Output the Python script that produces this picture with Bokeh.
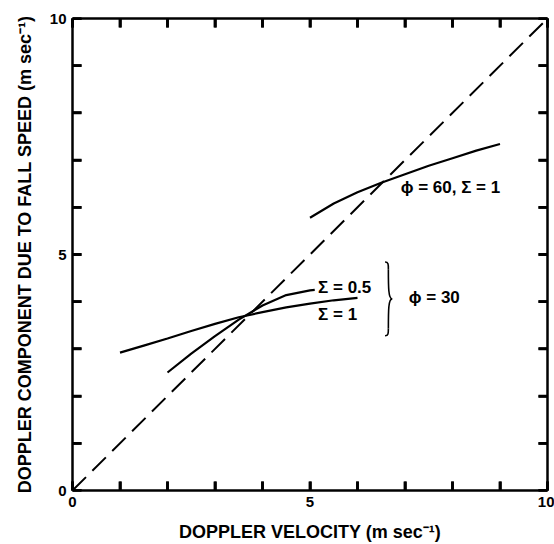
from bokeh.plotting import figure
from bokeh.models import Range1d, LinearAxis, FixedTicker, Label
from bokeh.embed import file_html
from bokeh.resources import INLINE

# ---- data ----
DIAG_X = [0, 10]
DIAG_Y = [0, 10]

PHI60_X = [5.0, 5.5, 6.0, 6.5, 7.0, 7.5, 8.0, 8.5, 9.0]
PHI60_Y = [5.78, 6.08, 6.32, 6.52, 6.70, 6.88, 7.04, 7.20, 7.34]

PHI30_S1_X = [1.0, 1.5, 2.0, 2.5, 3.0, 3.5, 4.0, 4.5, 5.0, 5.5, 6.0]
PHI30_S1_Y = [2.92, 3.07, 3.22, 3.38, 3.53, 3.67, 3.78, 3.88, 3.96, 4.03, 4.08]

PHI30_S05_X = [2.0, 2.5, 3.0, 3.5, 4.0, 4.5, 5.0, 5.1]
PHI30_S05_Y = [2.50, 2.90, 3.27, 3.62, 3.92, 4.14, 4.24, 4.25]

TICKS = list(range(0, 11))
TICK_LABELS = {0: "0", 5: "5", 10: "10"}

X_TITLE = "DOPPLER VELOCITY (m sec\u207b\u00b9)"
Y_TITLE = "DOPPLER COMPONENT DUE TO FALL SPEED (m sec\u207b\u00b9)"

FONT = "Liberation Sans"
TICK_LEN = 0.19    # inward tick length (data units, ~9 px)
TICK_HALF = 0.03   # half tick thickness (data units, ~1.4 px)

p = figure(width=554, height=544, x_range=Range1d(0, 10), y_range=Range1d(0, 10),
           output_backend="svg", toolbar_location=None,
           x_axis_location=None, y_axis_location=None,
           min_border_left=72, min_border_right=7, min_border_top=18, min_border_bottom=54)
p.outline_line_color = None
p.xgrid.visible = False
p.ygrid.visible = False
p.background_fill_color = "white"
p.border_fill_color = "white"

overrides = {t: TICK_LABELS.get(t, "") for t in TICKS}


def make_axis(title=None, labels=True):
    ax = LinearAxis(ticker=FixedTicker(ticks=TICKS))
    ax.axis_line_width = 2.5
    ax.axis_line_color = "black"
    ax.major_tick_in = 9
    ax.major_tick_out = 0
    ax.major_tick_line_width = 2.5
    ax.major_tick_line_color = "black"
    ax.minor_tick_line_color = None
    if labels:
        ax.major_label_overrides = overrides
        ax.major_label_text_font = FONT
        ax.major_label_text_font_style = "bold"
        ax.major_label_text_font_size = "15px"
        ax.major_label_text_color = "black"
    else:
        ax.major_label_overrides = {t: "" for t in TICKS}
        ax.major_label_text_font_size = "0px"
        ax.major_label_standoff = 0
    if title:
        ax.axis_label = title
        ax.axis_label_text_font = FONT
        ax.axis_label_text_font_style = "bold"
        ax.axis_label_text_font_size = "18px"
        ax.axis_label_text_color = "black"
    return ax


xb = make_axis(X_TITLE)
xb.major_label_standoff = 6
xb.axis_label_standoff = 12
yl = make_axis(Y_TITLE)
yl.major_label_standoff = 6
yl.axis_label_standoff = 12
xt = make_axis(labels=False)
yr = make_axis(labels=False)

p.add_layout(xb, "below")
p.add_layout(yl, "left")
p.add_layout(xt, "above")
p.add_layout(yr, "right")

# inward tick marks on all four sides, drawn as thin filled bars on top of everything
n = len(TICKS)
t_lo = [t - TICK_HALF for t in TICKS]
t_hi = [t + TICK_HALF for t in TICKS]
p.quad(left=t_lo, right=t_hi, bottom=[0.0] * n, top=[TICK_LEN] * n,
       fill_color="black", line_color=None, level="overlay")
p.quad(left=t_lo, right=t_hi, bottom=[10 - TICK_LEN] * n, top=[10.0] * n,
       fill_color="black", line_color=None, level="overlay")
p.quad(left=[0.0] * n, right=[TICK_LEN] * n, bottom=t_lo, top=t_hi,
       fill_color="black", line_color=None)
p.quad(left=[10 - TICK_LEN] * n, right=[10.0] * n, bottom=t_lo, top=t_hi,
       fill_color="black", line_color=None)

# curves
p.line(DIAG_X, DIAG_Y, line_color="black", line_width=2, line_dash="19 9")
p.line(PHI60_X, PHI60_Y, line_color="black", line_width=2.2)
p.line(PHI30_S1_X, PHI30_S1_Y, line_color="black", line_width=2.2)
p.line(PHI30_S05_X, PHI30_S05_Y, line_color="black", line_width=2.2)

# brace (annotation) grouping the two phi = 30 curves
BX_L, BX_M, BX_R = 6.58, 6.65, 6.73
BY_T, BY_M, BY_B = 4.84, 4.06, 3.28
p.bezier(x0=[BX_L, BX_M, BX_R, BX_M], y0=[BY_T, BY_T - 0.15, BY_M, BY_B + 0.15],
         x1=[BX_M, BX_R, BX_M, BX_L], y1=[BY_T - 0.15, BY_M, BY_B + 0.15, BY_B],
         cx0=[BX_M, BX_M, BX_M, BX_M], cy0=[BY_T, BY_M + 0.25, BY_M, BY_B + 0.05],
         cx1=[BX_M, BX_M, BX_M, BX_M], cy1=[BY_T - 0.05, BY_M, BY_M - 0.25, BY_B],
         line_color="black", line_width=1.6)

# annotations
ANNOT = [
    (5.17, 4.31, "\u03a3 = 0.5"),
    (5.17, 3.72, "\u03a3 = 1"),
    (7.08, 4.08, "\u03d5 = 30"),
    (6.91, 6.41, "\u03d5 = 60, \u03a3 = 1"),
]
for ax_, ay_, txt in ANNOT:
    p.add_layout(Label(x=ax_, y=ay_, text=txt, text_font=FONT, text_font_style="bold",
                       text_font_size="17px", text_baseline="middle", text_align="left",
                       text_color="black"))

open("out.html", "w").write(file_html(p, INLINE))
